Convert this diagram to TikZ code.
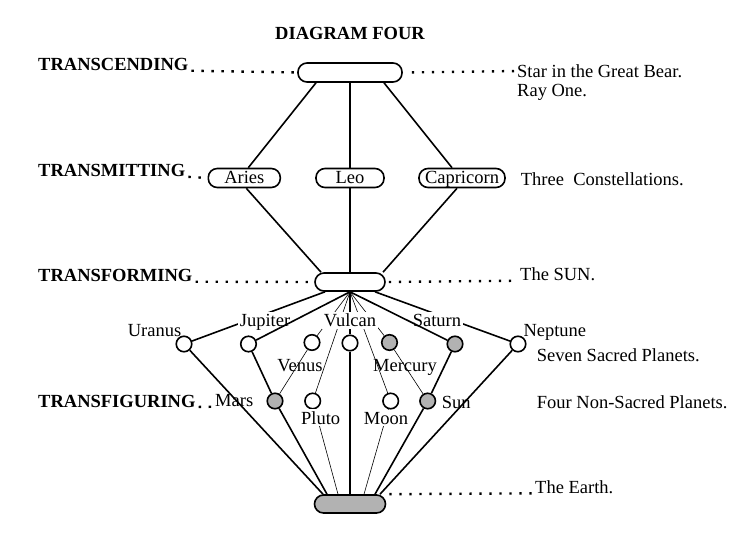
\documentclass[tikz,border=0pt]{standalone}
\usepackage{fontspec}
\setmainfont{Liberation Serif}
\definecolor{discgray}{RGB}{178,178,178}

\begin{document}
\begin{tikzpicture}[
  x=1pt, y=-1pt,
  font=\fontsize{18.5}{22}\selectfont,
  stage/.style={anchor=base west, inner sep=0pt,
                font=\fontsize{18.5}{22}\selectfont\bfseries},
  note/.style={anchor=base west, inner sep=0pt},
  plabel/.style={anchor=base, inner sep=2pt},
  pill/.style={draw, line width=1.6pt, rounded corners=9pt, inner sep=0pt,
               minimum height=19pt, text height=14pt, text depth=3pt},
  planet/.style={draw, circle, line width=1.6pt, fill=white,
                 minimum size=15.5pt, inner sep=0pt},
  shaded/.style={planet, fill=discgray},
  leader/.style={line width=2.4pt, dash pattern=on 2.4pt off 7.6pt,
                 shorten <=3pt, shorten >=3pt},
  heavy/.style={line width=1.6pt},
  spine/.style={line width=2.6pt},
  fine/.style={line width=0.6pt},
]
\useasboundingbox (0,0) rectangle (749,552);

% === Title and levels ===
\node[anchor=base, inner sep=0pt, font=\fontsize{18.5}{22}\selectfont\bfseries]
  (title) at (350, 39) {DIAGRAM FOUR};

\node[stage] (transcending)  at (38, 70.7)  {TRANSCENDING};
\node[stage] (transmitting)  at (38, 176.7) {TRANSMITTING};
\node[stage] (transforming)  at (38, 281.7) {TRANSFORMING};
\node[stage] (transfiguring) at (38, 407)   {TRANSFIGURING};

% === Ray, constellations, the sun, the earth ===
\node[pill, minimum width=104pt] (ray) at (350, 72.5) {};
\node[pill, minimum width=72pt] (aries) at (244.3, 178) {Aries};
\node[pill, minimum width=68pt] (leo) at (350, 178) {Leo};
\node[pill, minimum width=86pt] (capricorn) at (462, 178) {Capricorn};
\node[pill, minimum width=70pt, minimum height=18pt] (solar) at (350, 282) {};
\node[pill, minimum width=71pt, minimum height=18pt, fill=discgray]
  (earth) at (350, 504) {};

% === Right hand notes ===
\node[note] (bear)      at (517, 77.3)  {Star in the Great Bear.};
\node[note] (rayone)    at (517, 96.7)  {Ray One.};
\node[note] (three)     at (520.7, 185) {Three\ \ Constellations.};
\node[note] (thesun)    at (520, 280.7) {The SUN.};
\node[note] (seven)     at (536.7, 361.7) {Seven Sacred Planets.};
\node[note] (four)      at (536.7, 408.3) {Four Non-Sacred Planets.};
\node[note] (theearth)  at (535, 493.3) {The Earth.};

% === Planets ===
\node[planet] (uranus)  at (184, 344)   {};
\node[planet] (jupiter) at (248.5, 344) {};
\node[planet] (venus)   at (312, 342.5) {};
\node[planet] (vulcan)  at (350, 343)   {};
\node[shaded] (mercury) at (389.5, 342.5) {};
\node[shaded] (saturn)  at (455, 344)   {};
\node[planet] (neptune) at (518, 344)   {};
\node[shaded] (mars)    at (275, 401)   {};
\node[planet] (pluto)   at (312.7, 401) {};
\node[planet] (moon)    at (390.7, 401) {};
\node[shaded] (sun)     at (427.7, 401) {};

% === Dotted leaders ===
\draw[leader] (transcending.base east) -- (ray.west);
\draw[leader, shorten <=9pt] (ray.east) -- (bear.west);
\draw[leader] (transmitting.base east) -- (aries.west);
\draw[leader] (transforming.base east) -- (solar.west);
\draw[leader] (solar.east) -- (thesun.base west);
\draw[leader] (earth.north east) -- (theearth.base west);

% === Upper diamond ===
\draw[heavy] ([xshift=-34pt]ray.south) -- ([xshift=4pt]aries.north);
\draw[spine] (ray.south) -- (leo.north);
\draw[heavy] ([xshift=34pt]ray.south) -- ([xshift=-10pt]capricorn.north);
\draw[heavy] ([xshift=2pt]aries.south) -- ([xshift=-29pt]solar.north);
\draw[spine] (leo.south) -- (solar.north);
\draw[heavy] ([xshift=-5pt]capricorn.south) -- ([xshift=33pt]solar.north);

% === Lower fan (behind the labels) ===
\draw[heavy] ([xshift=-25pt]solar.south) -- (uranus);
\draw[heavy] ([xshift=25pt]solar.south) -- (neptune);
\draw[spine] (solar.south) -- (vulcan);
\draw[fine] (solar.south) -- (venus);
\draw[fine] (solar.south) -- (pluto);
\draw[fine] (solar.south) -- (mercury);
\draw[fine] (solar.south) -- (moon);
\draw[heavy] (jupiter) -- (mars);
\draw[fine] (venus) -- (mars);
\draw[heavy] (saturn) -- (sun);
\draw[fine] (mercury) -- (sun);
\draw[heavy] (uranus) -- ([xshift=-27pt]earth.north);
\draw[heavy] (mars) -- ([xshift=-23pt]earth.north);
\draw[fine] (pluto) -- ([xshift=-12pt]earth.north);
\draw[spine] (vulcan) -- (earth.north);
\draw[fine] (moon) -- ([xshift=14pt]earth.north);
\draw[heavy] (sun) -- ([xshift=25pt]earth.north);
\draw[heavy] (neptune) -- ([xshift=30pt]earth.north);

% === Planet labels ===
\node[plabel] (uranusL)  at (154.5, 336.7) {Uranus};
\node[plabel, fill=white] (jupiterL) at (265, 326.7) {Jupiter};
\node[plabel, fill=white] (vulcanL)  at (350, 326.7) {Vulcan};
\node[plabel, fill=white] (saturnL)  at (437, 326.7) {Saturn};
\node[note] (neptuneL) at (523.3, 336) {Neptune};
\node[plabel] (venusL)   at (300, 371.7) {Venus};
\node[plabel] (mercuryL) at (405, 371.7) {Mercury};
\node[note] (marsL) at (215, 406.7) {Mars};
\node[plabel, fill=white] (plutoL) at (320.7, 424) {Pluto};
\node[plabel, fill=white] (moonL)  at (386, 424) {Moon};
\node[note] (sunL) at (441.7, 408.3) {Sun};

\draw[leader] (transfiguring.base east) -- (marsL.base west);

% === Lower fan (over the labels) ===
\draw[heavy] (solar.south) -- (jupiter);
\draw[heavy] (solar.south) -- (saturn);

\end{tikzpicture}
\end{document}
